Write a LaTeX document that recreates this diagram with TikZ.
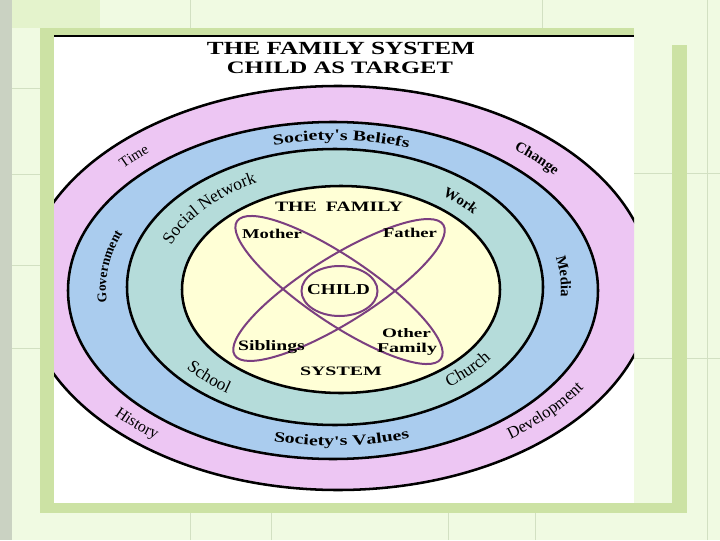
\documentclass[tikz,border=0pt]{standalone}
\usepackage{fontspec}
\setmainfont{Liberation Serif}
\newfontfamily\wideserif[FakeStretch=1.36]{Liberation Serif}
\usetikzlibrary{decorations.text}
\definecolor{bggreen}{RGB}{240,250,226}
\definecolor{tilegreen}{RGB}{228,243,204}
\definecolor{gridline}{RGB}{210,224,194}
\definecolor{framegreen}{RGB}{204,226,164}
\definecolor{stripgray}{RGB}{202,210,194}
\definecolor{pinkband}{RGB}{237,198,243}
\definecolor{blueband}{RGB}{170,204,238}
\definecolor{tealband}{RGB}{181,220,218}
\definecolor{yellowcore}{RGB}{255,255,214}
\definecolor{orbit}{RGB}{123,63,128}
\tikzset{
  ring/.style={draw=black, line width=1.9pt},
  orbitline/.style={draw=orbit, line width=1.5pt},
  gridl/.style={draw=gridline, line width=0.6pt},
  lbl/.style={anchor=base, inner sep=0pt, outer sep=0pt},
}
% cx, cy, rx, ry, start angle, end angle, format, text
\newcommand\arclabel[8]{\path[decorate, decoration={text along path, text align=center, text={|#7|#8}}] (#1,#2) ++(#5:#3 and #4) arc[start angle=#5, end angle=#6, x radius=#3, y radius=#4];}
\begin{document}
\begin{tikzpicture}[x=0.75pt,y=0.75pt]
\useasboundingbox (0,0) rectangle (720,540);
% background
\fill[bggreen] (0,0) rectangle (720,540);
\fill[stripgray] (0,0) rectangle (12,540);
\fill[tilegreen] (12,512) rectangle (100,540);
\draw[gridl] (190,512) -- (190,540);
\draw[gridl] (542,512) -- (542,540);
\draw[gridl] (190,0) -- (190,27);
\draw[gridl] (271,0) -- (271,27);
\draw[gridl] (448,0) -- (448,27);
\draw[gridl] (535,0) -- (535,27);
\draw[gridl] (707,0) -- (707,540);
\foreach \yy in {452,366,275,192} {\draw[gridl] (12,\yy) -- (40,\yy);}
\foreach \yy in {367,182} {\draw[gridl] (634,\yy) -- (720,\yy);}
% frame
\fill[framegreen] (40,503) rectangle (634,512);
\fill[framegreen] (40,27) rectangle (54,512);
\fill[framegreen] (40,27) rectangle (687,37);
\fill[framegreen] (672,27) rectangle (687,495);
% panel
\fill[white] (54,37) rectangle (634,503);
\draw[line width=1.7pt] (54,504) -- (634,504);
% rings
\begin{scope}
  \clip (54,37) rectangle (634,503);
  \path[ring, fill=pinkband] (338,252) ellipse [x radius=314, y radius=202];
\end{scope}
\path[ring, fill=blueband] (333,249.5) ellipse [x radius=265, y radius=168.5];
\path[ring, fill=tealband] (335,253) ellipse [x radius=208, y radius=138];
\path[ring, fill=yellowcore] (341,250.5) ellipse [x radius=159, y radius=103.5];
% orbits
\path[orbitline, rotate around={-34:(339,250)}] (339,250) ellipse [x radius=123, y radius=33];
\path[orbitline, rotate around={32:(339,250)}] (339,250) ellipse [x radius=123, y radius=33];
\path[orbitline, fill=yellowcore] (339.5,249) ellipse [x radius=38, y radius=25];
% title
\node[lbl] (title1) at (341,485) {\resizebox{201pt}{9.2pt}{\bfseries THE FAMILY SYSTEM}};
\node[lbl] (title2) at (340,466.7) {\resizebox{169.5pt}{8.7pt}{\bfseries CHILD AS TARGET}};
% inner labels
\node[lbl] (thefamily) at (339,328.5) {\resizebox{96pt}{7.1pt}{\bfseries THE\hspace{0.45em}FAMILY}};
\node[lbl] (mother) at (272,302) {\resizebox{45pt}{7pt}{\bfseries Mother}};
\node[lbl] (father) at (410,303) {\resizebox{40.5pt}{7pt}{\bfseries Father}};
\node[lbl] (child) at (338.5,246) {\resizebox{47pt}{7.5pt}{\bfseries CHILD}};
\node[lbl] (siblings) at (271.5,190) {\resizebox{50pt}{7.5pt}{\bfseries Siblings}};
\node[lbl] (other) at (406.5,203) {\resizebox{36.75pt}{6.75pt}{\bfseries Other}};
\node[lbl] (family) at (407,188) {\resizebox{45pt}{7pt}{\bfseries Family}};
\node[lbl] (system) at (341,164.5) {\resizebox{61.5pt}{6.4pt}{\bfseries SYSTEM}};
% blue band labels
\arclabel{334}{251}{230}{149}{122}{54}{\wideserif\bfseries\fontsize{11}{13}\selectfont}{Society's Beliefs}
\arclabel{334}{251}{243}{157}{238}{306}{\wideserif\bfseries\fontsize{11}{13}\selectfont}{Society's Values}
\arclabel{334}{251}{228}{147.5}{202.4}{142.4}{\bfseries\fontsize{10}{12}\selectfont}{Government}
\arclabel{334}{251}{227}{146.9}{29.3}{-20.7}{\bfseries\fontsize{11}{13}\selectfont}{Media}
% pink band labels
\arclabel{336}{251}{283.7}{181.3}{144.7}{125.5}{\fontsize{11}{13}\selectfont}{Time}
\arclabel{336}{251}{282}{180}{57.5}{31.5}{\bfseries\fontsize{11}{13}\selectfont}{Change}
\arclabel{336}{251}{296.7}{189.6}{213.6}{239.6}{\fontsize{12}{14}\selectfont}{History}
\arclabel{336}{251}{292.4}{186.9}{302.9}{332.5}{\fontsize{12.5}{14}\selectfont}{Development}
% teal band labels
\arclabel{338}{252}{179}{118}{167.1}{110.8}{\fontsize{13}{15}\selectfont}{Social Network}
\arclabel{338}{252}{175}{115.6}{58}{34}{\bfseries\fontsize{11}{13}\selectfont}{Work}
\arclabel{338}{252}{194.5}{128.3}{213.5}{240}{\fontsize{13}{15}\selectfont}{School}
\arclabel{338}{252}{187}{123.4}{301.5}{330.8}{\fontsize{13}{15}\selectfont}{Church}
\end{tikzpicture}
\end{document}
